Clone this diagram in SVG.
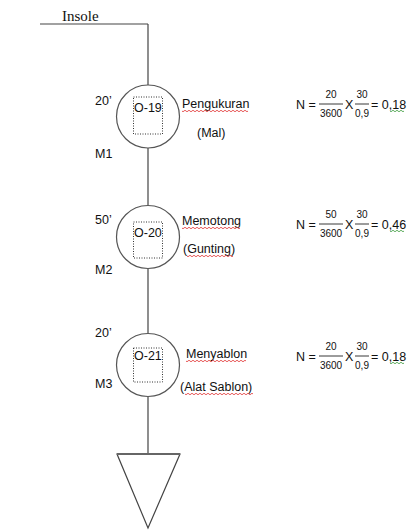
<svg xmlns="http://www.w3.org/2000/svg" width="416" height="530" viewBox="0 0 416 530">
<style>
.ln{stroke:#444;stroke-width:1.2;fill:none}
.cir{stroke:#555;stroke-width:1.2;fill:#fff}
.dot{stroke:#333;stroke-width:1;stroke-dasharray:1 1.5;fill:none}
.t{font-family:"Liberation Sans",Arial,sans-serif;font-size:12.5px;fill:#111}
.s{font-family:"Liberation Sans",Arial,sans-serif;font-size:10px;fill:#111}
.serif{font-family:"Liberation Serif","Times New Roman",serif;font-size:15px;fill:#111}
.red{stroke:#e03030;stroke-width:0.8;fill:none}
.grn{stroke:#3a9a3a;stroke-width:0.8;fill:none}
.bar{stroke:#222;stroke-width:0.9}
</style>
<g id="connectors">
<line class="ln" x1="40" y1="24" x2="148" y2="24"/>
<line class="ln" x1="148" y1="24" x2="148" y2="85"/>
<line class="ln" x1="148" y1="148" x2="148" y2="205"/>
<line class="ln" x1="148" y1="269" x2="148" y2="333"/>
<line class="ln" x1="148" y1="397" x2="148" y2="454"/>
</g>
<g id="start">
<text class="serif" x="62" y="21">Insole</text>
</g>
<g id="op19">
<circle class="cir" cx="148" cy="116.5" r="31.5"/>
<rect class="dot" x="133.5" y="97" width="29" height="37"/>
<text class="t" x="134" y="112">O-19</text>
<text class="t" x="95" y="105">20’</text>
<text class="t" x="95" y="158">M1</text>
<text class="t" x="182" y="108">Pengukuran</text>
<path class="red" d="M182,111 q1,1.5 2,0 t2,0 t2,0 t2,0 t2,0 t2,0 t2,0 t2,0 t2,0 t2,0 t2,0 t2,0 t2,0 t2,0 t2,0 t2,0 t2,0 t2,0 t2,0 t2,0 t2,0 t2,0 t2,0 t2,0 t2,0 t2,0 t2,0 t2,0 t2,0 t2,0 t2,0 t2,0 t2,0"/>
<text class="t" x="197" y="137">(Mal)</text>
</g>
<g id="op20">
<circle class="cir" cx="148" cy="237" r="31.5"/>
<rect class="dot" x="133.5" y="222" width="29" height="36"/>
<text class="t" x="134" y="237">O-20</text>
<text class="t" x="95" y="224">50’</text>
<text class="t" x="95" y="274">M2</text>
<text class="t" x="182" y="225">Memotong</text>
<path class="red" d="M182,228 q1,1.5 2,0 t2,0 t2,0 t2,0 t2,0 t2,0 t2,0 t2,0 t2,0 t2,0 t2,0 t2,0 t2,0 t2,0 t2,0 t2,0 t2,0 t2,0 t2,0 t2,0 t2,0 t2,0 t2,0 t2,0 t2,0 t2,0 t2,0 t2,0 t2,0"/>
<text class="t" x="183" y="253">(Gunting)</text>
<path class="red" d="M187,256 q1,1.5 2,0 t2,0 t2,0 t2,0 t2,0 t2,0 t2,0 t2,0 t2,0 t2,0 t2,0 t2,0 t2,0 t2,0 t2,0 t2,0 t2,0 t2,0 t2,0 t2,0 t2,0 t2,0 t2,0"/>
</g>
<g id="op21">
<circle class="cir" cx="148" cy="365" r="31.5"/>
<rect class="dot" x="133.5" y="348" width="29" height="34"/>
<text class="t" x="134" y="360">O-21</text>
<text class="t" x="95" y="337">20’</text>
<text class="t" x="95" y="388">M3</text>
<text class="t" x="186" y="358">Menyablon</text>
<path class="red" d="M186,361 q1,1.5 2,0 t2,0 t2,0 t2,0 t2,0 t2,0 t2,0 t2,0 t2,0 t2,0 t2,0 t2,0 t2,0 t2,0 t2,0 t2,0 t2,0 t2,0 t2,0 t2,0 t2,0 t2,0 t2,0 t2,0 t2,0 t2,0 t2,0 t2,0 t2,0 t2,0"/>
<text class="t" x="180" y="391">(Alat Sablon)</text>
<path class="red" d="M185,394 q1,1.5 2,0 t2,0 t2,0 t2,0 t2,0 t2,0 t2,0 t2,0 t2,0 t2,0 t2,0 t2,0 t2,0 t2,0 t2,0 t2,0 t2,0 t2,0 t2,0 t2,0 t2,0 t2,0 t2,0 t2,0 t2,0 t2,0 t2,0 t2,0 t2,0 t2,0 t2,0 t2,0 t2,0 t2,0"/>
</g>
<g id="storage">
<polygon class="ln" points="117,454 180,454 148,528" style="fill:#fff"/>
<line x1="117" y1="454" x2="180" y2="454" stroke="#666" stroke-width="2"/>
</g>
<g id="formula1">
<text class="t" x="296" y="109">N =</text>
<text class="s" x="331" y="98" text-anchor="middle">20</text>
<line class="bar" x1="319" y1="104" x2="343" y2="104"/>
<text class="s" x="331" y="117" text-anchor="middle">3600</text>
<text class="t" x="345" y="109">X</text>
<text class="s" x="362" y="98" text-anchor="middle">30</text>
<line class="bar" x1="355" y1="104" x2="369" y2="104"/>
<text class="s" x="362" y="117" text-anchor="middle">0,9</text>
<text class="t" x="371" y="109">= 0,18</text>
<path class="grn" d="M390,111 q1,1.5 2,0 t2,0 t2,0 t2,0 t2,0 t2,0 t2,0"/>
</g>
<g id="formula2">
<text class="t" x="296" y="229">N =</text>
<text class="s" x="331" y="218" text-anchor="middle">50</text>
<line class="bar" x1="319" y1="224" x2="343" y2="224"/>
<text class="s" x="331" y="237" text-anchor="middle">3600</text>
<text class="t" x="345" y="229">X</text>
<text class="s" x="362" y="218" text-anchor="middle">30</text>
<line class="bar" x1="355" y1="224" x2="369" y2="224"/>
<text class="s" x="362" y="237" text-anchor="middle">0,9</text>
<text class="t" x="371" y="229">= 0,46</text>
<path class="grn" d="M390,231 q1,1.5 2,0 t2,0 t2,0 t2,0 t2,0 t2,0 t2,0"/>
</g>
<g id="formula3">
<text class="t" x="296" y="361">N =</text>
<text class="s" x="331" y="350" text-anchor="middle">20</text>
<line class="bar" x1="319" y1="356" x2="343" y2="356"/>
<text class="s" x="331" y="369" text-anchor="middle">3600</text>
<text class="t" x="345" y="361">X</text>
<text class="s" x="362" y="350" text-anchor="middle">30</text>
<line class="bar" x1="355" y1="356" x2="369" y2="356"/>
<text class="s" x="362" y="369" text-anchor="middle">0,9</text>
<text class="t" x="371" y="361">= 0,18</text>
<path class="grn" d="M390,363 q1,1.5 2,0 t2,0 t2,0 t2,0 t2,0 t2,0 t2,0"/>
</g>
</svg>
